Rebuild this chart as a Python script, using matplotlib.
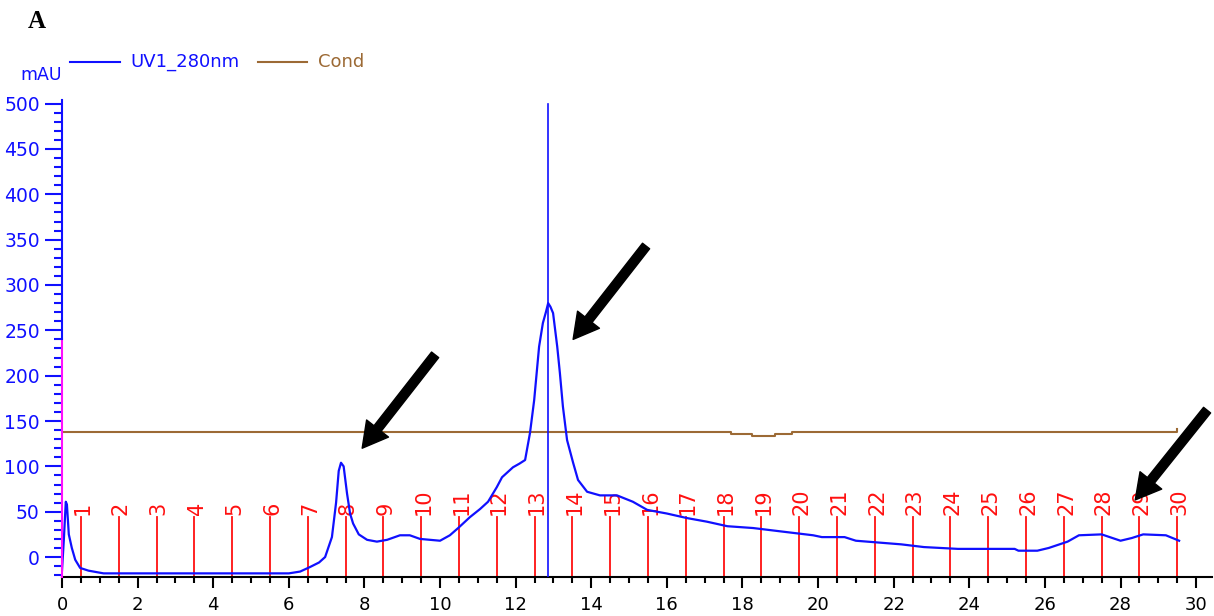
import matplotlib
matplotlib.use("Agg")
import matplotlib.pyplot as plt
from matplotlib.ticker import MultipleLocator

# ---------------- data ----------------
uv_x = [0.0, 0.05, 0.1, 0.13, 0.18, 0.26, 0.35, 0.48, 0.7, 1.1, 6.0, 6.3, 6.56, 6.8,
        6.96, 7.14, 7.25, 7.32, 7.38, 7.45, 7.54, 7.62, 7.7, 7.85, 8.07, 8.33, 8.6,
        8.94, 9.2, 9.47, 10.0, 10.26, 10.48, 10.79, 11.06, 11.27, 11.5, 11.64, 11.93,
        12.1, 12.25, 12.38, 12.49, 12.62, 12.72, 12.8, 12.86, 12.92, 12.99, 13.1,
        13.17, 13.25, 13.36, 13.52, 13.65, 13.89, 14.23, 14.68, 15.1, 15.48, 16.0,
        16.53, 17.06, 17.6, 18.28, 19.07, 19.87, 20.1, 20.7, 21.0, 22.2, 22.8, 23.7,
        25.2, 25.3, 25.8, 26.1, 26.6, 26.9, 27.5, 28.0, 28.3, 28.6, 29.2, 29.55]
uv_y = [-15, 20, 61, 58, 25, 10, -3, -12, -15, -18, -18, -16, -11, -6,
        0, 22, 60, 95, 104, 100, 70, 48, 37, 25, 19, 17, 19,
        24, 24, 20, 18, 24, 32, 44, 53, 61, 77, 88, 99,
        103, 107, 137, 173, 232, 258, 270, 280, 276, 269, 232,
        203, 166, 129, 104, 85, 72, 68, 68, 61, 52, 48,
        43, 39, 34, 32, 28, 24, 22, 22, 18, 14, 11, 9,
        9, 7, 7, 10, 17, 24, 25, 18, 21, 25, 24, 18]

cond_x = [0, 17.7, 17.7, 18.25, 18.25, 18.85, 18.85, 19.3, 19.3, 29.5, 29.5]
cond_y = [138, 138, 136, 136, 134, 134, 136, 136, 138, 138, 141]

spike_x = 12.85
spike_top = 500

frac_x = [0.5, 1.5, 2.5, 3.5, 4.5, 5.5, 6.5, 7.5, 8.5, 9.5, 10.5, 11.5, 12.5, 13.5,
          14.5, 15.5, 16.5, 17.5, 18.5, 19.5, 20.5, 21.5, 22.5, 23.5, 24.5, 25.5,
          26.5, 27.5, 28.5, 29.5]
frac_labels = [str(i) for i in range(1, 31)]

# arrows: (tail_x, tail_y, head_x, head_y) in data units
arrows = [(9.87, 223, 7.94, 120),
          (15.45, 343, 13.52, 240),
          (30.29, 162, 28.39, 63)]

BLUE = "#1010FF"
BROWN = "#9C6A35"
RED = "#FF1010"
MAG = "#FF10FF"

plt.rcParams['font.family'] = ['DejaVu Sans']

fig = plt.figure(figsize=(12.14, 6.16), dpi=100)
W, H = 1214, 616
ax = fig.add_axes([62 / W, 39 / H, 1150 / W, 477 / H])
ax.set_xlim(0, 30.42)
ax.set_ylim(-22, 504)

for s in ["top", "right", "left"]:
    ax.spines[s].set_visible(False)
ax.spines["bottom"].set_color("black")
ax.spines["bottom"].set_linewidth(1.5)

# left spine in two colours
ax.plot([0, 0], [-22, 240], color=MAG, lw=1.5, clip_on=False, zorder=6)
ax.plot([0, 0], [240, 504], color=BLUE, lw=1.5, clip_on=False, zorder=6)

# fraction markers
for fx, lab in zip(frac_x, frac_labels):
    ax.plot([fx, fx], [-22, 44], color=RED, lw=1.3, zorder=2)
    ax.text(fx + 0.06, 46, lab, rotation=90, ha="center", va="bottom",
            color=RED, fontsize=15)

# conductivity
ax.plot(cond_x, cond_y, color=BROWN, lw=1.5, zorder=3)
# UV
ax.plot(uv_x, uv_y, color=BLUE, lw=1.6, zorder=4)
ax.plot([spike_x, spike_x], [-22, spike_top], color=BLUE, lw=1.2, zorder=4)

# arrows
for tx, ty, hx, hy in arrows:
    ax.annotate("", xy=(hx, hy), xytext=(tx, ty), annotation_clip=False,
                arrowprops=dict(facecolor="black", edgecolor="black", width=6.5,
                                headwidth=20, headlength=18, shrink=0))

# ticks
ax.xaxis.set_major_locator(MultipleLocator(2))
ax.xaxis.set_minor_locator(MultipleLocator(0.5))
ax.yaxis.set_major_locator(MultipleLocator(50))
ax.yaxis.set_minor_locator(MultipleLocator(10))
ax.set_yticks([0, 50, 100, 150, 200, 250, 300, 350, 400, 450, 500])
ax.tick_params(axis="x", which="major", length=8, width=1.5, color="black",
               labelsize=13, labelcolor="black", pad=6)
ax.tick_params(axis="x", which="minor", length=4, width=1.5, color="black")
ax.tick_params(axis="y", which="major", length=12, width=1.5, color=BLUE,
               labelsize=13.5, labelcolor=BLUE, pad=4)
ax.tick_params(axis="y", which="minor", length=6, width=1.5, color=BLUE)
ax.set_xticks([0, 2, 4, 6, 8, 10, 12, 14, 16, 18, 20, 22, 24, 26, 28, 30])

# texts outside axes
fig.text(28 / W, 1 - 22 / H, "A", fontsize=18, fontweight="bold",
         family="Liberation Serif", ha="left", va="center")
fig.text(62 / W, 1 - 75 / H, "mAU", color=BLUE, fontsize=12.5, ha="right", va="center")
fig.lines.append(plt.Line2D([70 / W, 120 / W], [1 - 62 / H, 1 - 62 / H],
                            transform=fig.transFigure, color=BLUE, lw=1.5))
fig.text(130 / W, 1 - 62 / H, "UV1_280nm", color=BLUE, fontsize=13, ha="left", va="center")
fig.lines.append(plt.Line2D([258 / W, 307 / W], [1 - 62 / H, 1 - 62 / H],
                            transform=fig.transFigure, color=BROWN, lw=1.5))
fig.text(318 / W, 1 - 62 / H, "Cond", color=BROWN, fontsize=13, ha="left", va="center")

fig.savefig("out.png", dpi=100)
